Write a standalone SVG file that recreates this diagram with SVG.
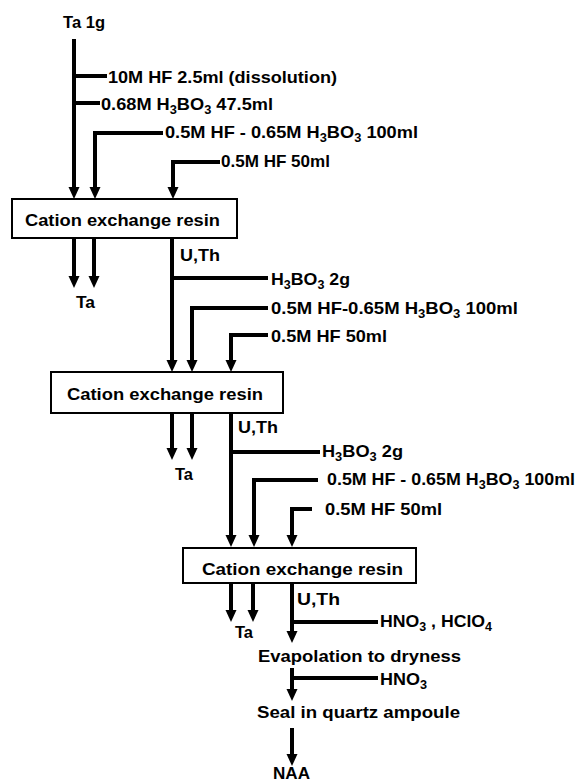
<svg xmlns="http://www.w3.org/2000/svg" width="578" height="784" viewBox="0 0 578 784">
<defs>
<marker id="ah" markerUnits="userSpaceOnUse" markerWidth="14" markerHeight="14" refX="0" refY="0" viewBox="0 -7 14 14" orient="auto" overflow="visible">
<path d="M0,-5.5 L12,0 L0,5.5 z" fill="#000"/>
</marker>
<style>
text{font-family:"Liberation Sans",Arial,sans-serif;font-weight:bold;font-size:17px;fill:#000}
.ln{stroke:#000;stroke-width:4;fill:none;stroke-linecap:butt;stroke-linejoin:miter}
.arr{marker-end:url(#ah)}
.box{fill:#fff;stroke:#000;stroke-width:2}
.sub{font-size:12px}
</style>
</defs>
<rect width="578" height="784" fill="#fff"/>
<g id="connectors">
<line class="ln arr" x1="74" y1="39" x2="74" y2="187"/>
<polyline class="ln" points="74,76 107,76"/>
<polyline class="ln" points="74,103 100,103"/>
<polyline class="ln arr" points="163,133 95,133 95,187"/>
<polyline class="ln arr" points="220,162 173,162 173,187"/>
<line class="ln arr" x1="74" y1="238" x2="74" y2="276"/>
<line class="ln arr" x1="94" y1="238" x2="94" y2="276"/>
<line class="ln arr" x1="172" y1="238" x2="172" y2="360"/>
<polyline class="ln" points="172,278 268,278"/>
<polyline class="ln arr" points="268,308 192,308 192,360"/>
<polyline class="ln arr" points="268,335 231,335 231,360"/>
<line class="ln arr" x1="172" y1="413" x2="172" y2="448"/>
<line class="ln arr" x1="192" y1="413" x2="192" y2="448"/>
<line class="ln arr" x1="231" y1="413" x2="231" y2="535"/>
<polyline class="ln" points="231,452 320,452"/>
<polyline class="ln arr" points="318,480 254,480 254,535"/>
<polyline class="ln arr" points="312,509 292,509 292,535"/>
<line class="ln arr" x1="231" y1="583" x2="231" y2="610"/>
<line class="ln arr" x1="253" y1="583" x2="253" y2="610"/>
<line class="ln arr" x1="292" y1="583" x2="292" y2="631"/>
<polyline class="ln" points="292,622 378,622"/>
<line class="ln arr" x1="292" y1="668" x2="292" y2="689"/>
<polyline class="ln" points="292,678 378,678"/>
<line class="ln arr" x1="292" y1="728" x2="292" y2="754"/>
</g>
<g id="sample"><text x="63" y="28" font-size="18" textLength="42" lengthAdjust="spacingAndGlyphs">Ta 1g</text></g>
<g id="reagent1">
<text x="108" y="83" textLength="229" lengthAdjust="spacingAndGlyphs">10M HF 2.5ml (dissolution)</text>
<text x="101" y="110" textLength="172" lengthAdjust="spacingAndGlyphs">0.68M H<tspan class="sub" dy="4">3</tspan><tspan dy="-4">BO</tspan><tspan class="sub" dy="4">3</tspan><tspan dy="-4"> 47.5ml</tspan></text>
<text x="165" y="138" textLength="253" lengthAdjust="spacingAndGlyphs">0.5M HF - 0.65M H<tspan class="sub" dy="4">3</tspan><tspan dy="-4">BO</tspan><tspan class="sub" dy="4">3</tspan><tspan dy="-4"> 100ml</tspan></text>
<text x="221" y="167" textLength="109" lengthAdjust="spacingAndGlyphs">0.5M HF 50ml</text>
</g>
<g id="resin1">
<rect class="box" x="12" y="199" width="225" height="39"/>
<text x="25" y="226" textLength="195" lengthAdjust="spacingAndGlyphs">Cation exchange resin</text>
</g>
<g id="out1">
<text x="76" y="308" textLength="19" lengthAdjust="spacingAndGlyphs">Ta</text>
<text x="180" y="261" textLength="40" lengthAdjust="spacingAndGlyphs">U,Th</text>
</g>
<g id="reagent2">
<text x="271" y="285" textLength="79" lengthAdjust="spacingAndGlyphs">H<tspan class="sub" dy="4">3</tspan><tspan dy="-4">BO</tspan><tspan class="sub" dy="4">3</tspan><tspan dy="-4"> 2g</tspan></text>
<text x="271" y="314" textLength="247" lengthAdjust="spacingAndGlyphs">0.5M HF-0.65M H<tspan class="sub" dy="4">3</tspan><tspan dy="-4">BO</tspan><tspan class="sub" dy="4">3</tspan><tspan dy="-4"> 100ml</tspan></text>
<text x="271" y="342" textLength="116" lengthAdjust="spacingAndGlyphs">0.5M HF 50ml</text>
</g>
<g id="resin2">
<rect class="box" x="51" y="372" width="232" height="41"/>
<text x="67" y="400" textLength="196" lengthAdjust="spacingAndGlyphs">Cation exchange resin</text>
</g>
<g id="out2">
<text x="175" y="480" textLength="18" lengthAdjust="spacingAndGlyphs">Ta</text>
<text x="238" y="433" textLength="40" lengthAdjust="spacingAndGlyphs">U,Th</text>
</g>
<g id="reagent3">
<text x="322" y="457" textLength="81" lengthAdjust="spacingAndGlyphs">H<tspan class="sub" dy="4">3</tspan><tspan dy="-4">BO</tspan><tspan class="sub" dy="4">3</tspan><tspan dy="-4"> 2g</tspan></text>
<text x="327" y="485" textLength="248" lengthAdjust="spacingAndGlyphs">0.5M HF - 0.65M H<tspan class="sub" dy="4">3</tspan><tspan dy="-4">BO</tspan><tspan class="sub" dy="4">3</tspan><tspan dy="-4"> 100ml</tspan></text>
<text x="325" y="515" textLength="117" lengthAdjust="spacingAndGlyphs">0.5M HF 50ml</text>
</g>
<g id="resin3">
<rect class="box" x="183" y="548" width="233" height="35"/>
<text x="202" y="575" textLength="201" lengthAdjust="spacingAndGlyphs">Cation exchange resin</text>
</g>
<g id="out3">
<text x="235" y="638" textLength="18" lengthAdjust="spacingAndGlyphs">Ta</text>
<text x="297" y="605" textLength="43" lengthAdjust="spacingAndGlyphs">U,Th</text>
</g>
<g id="acid1"><text x="380" y="627" textLength="112" lengthAdjust="spacingAndGlyphs">HNO<tspan class="sub" dy="4">3</tspan><tspan dy="-4"> , HClO</tspan><tspan class="sub" dy="4">4</tspan></text></g>
<g id="evaporation"><text x="258" y="662" textLength="203" lengthAdjust="spacingAndGlyphs">Evapolation to dryness</text></g>
<g id="acid2"><text x="380" y="685" textLength="47" lengthAdjust="spacingAndGlyphs">HNO<tspan class="sub" dy="4">3</tspan></text></g>
<g id="seal"><text x="257" y="718" textLength="203" lengthAdjust="spacingAndGlyphs">Seal in quartz ampoule</text></g>
<g id="naa"><text x="273" y="779" textLength="37" lengthAdjust="spacingAndGlyphs">NAA</text></g>
</svg>
